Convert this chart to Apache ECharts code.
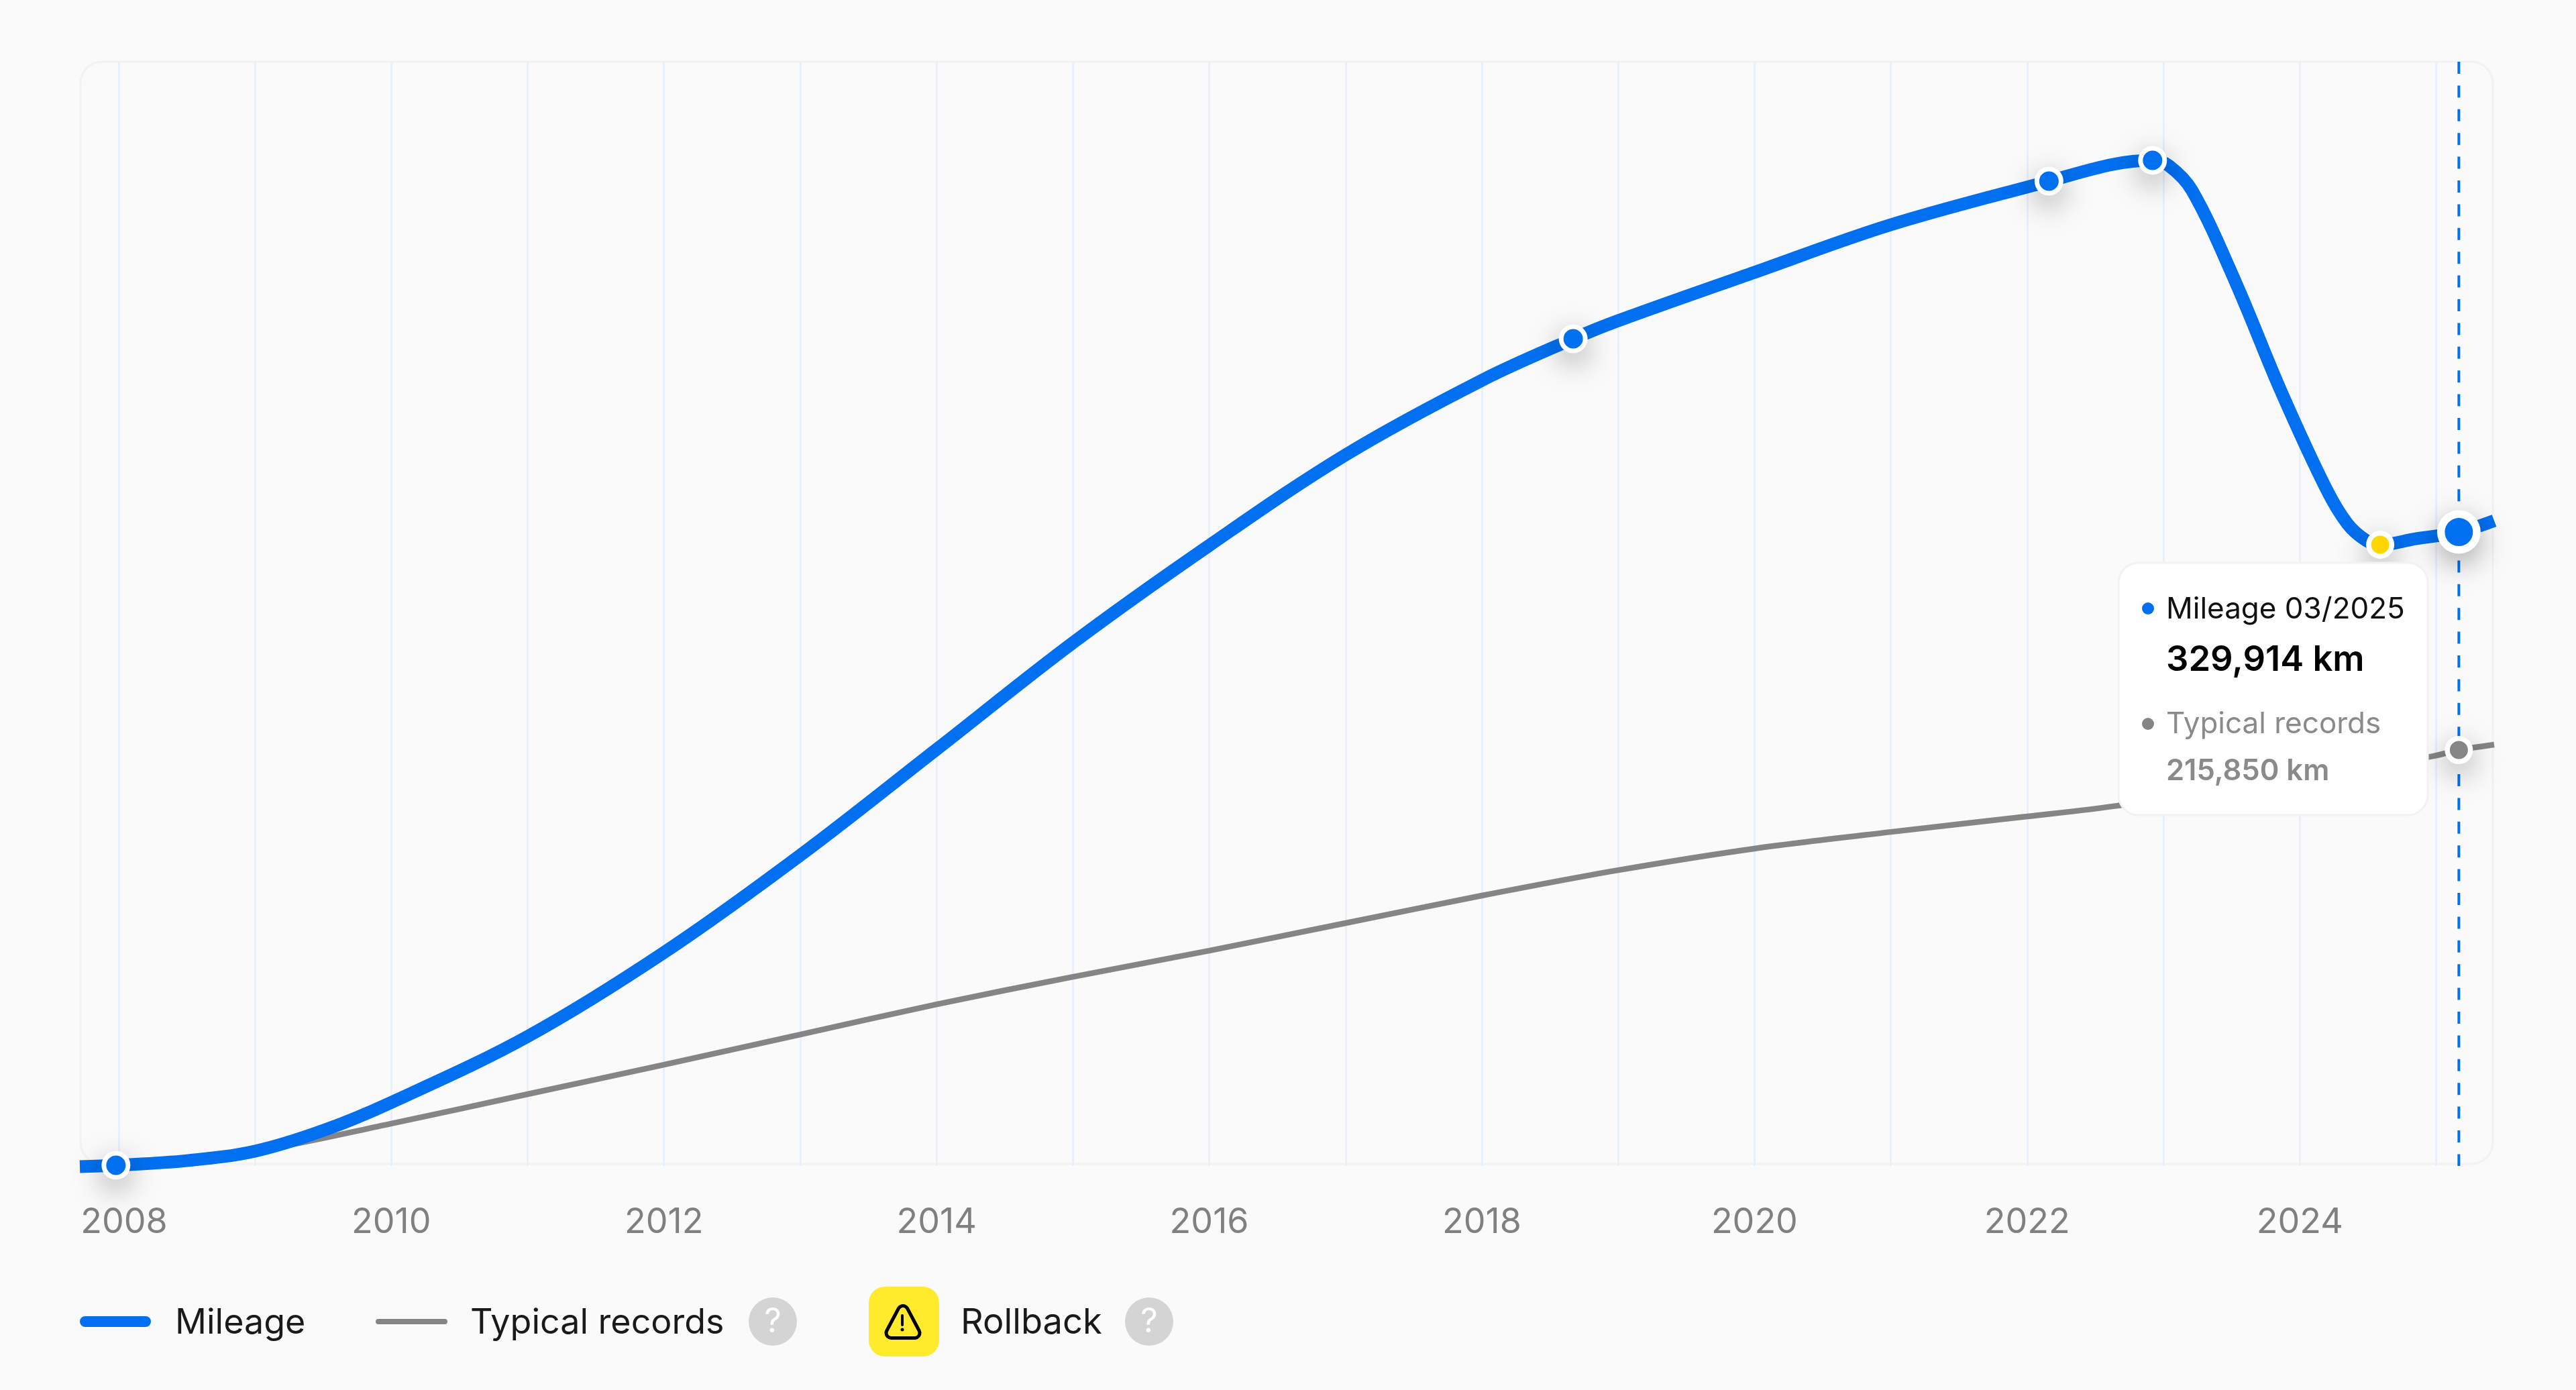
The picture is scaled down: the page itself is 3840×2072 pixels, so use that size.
<!DOCTYPE html>
<html>
	<head>
		<meta charset="utf-8">
		<title>Mileage</title>
		<script src="https://cdn.jsdelivr.net/npm/echarts@6/dist/echarts.min.js"></script>
		<style>
			html, body { margin: 0; padding: 0; background: #fafafa; }
		</style>
	</head>
	<body>
		<div id="main" style="width: 3840px; height: 2072px;"></div>
		<script type="text/javascript">
			// values, x in decimal years
			var mileageYears = [2007.715, 2007.98, 2008.5, 2009, 2009.5, 2010, 2011, 2012, 2013, 2014, 2015, 2016, 2017, 2018, 2018.67, 2019, 2020, 2021, 2022.16, 2022.63, 2022.92, 2023.04, 2023.21, 2023.53, 2023.86, 2024.19, 2024.35, 2024.49, 2024.59, 2024.85, 2025.167, 2025.426]
			var mileageValues = [-2100, -1400, 1000, 6000, 16800, 31500, 66000, 109900, 160800, 216200, 272000, 322900, 370300, 409300, 431000, 440500, 465800, 490700, 513500, 522300, 524400, 521600, 508600, 460500, 404000, 353100, 334200, 325400, 323300, 326400, 329914, 335900]
			var typicalYears = [2007.98, 2009, 2010, 2011, 2012, 2013, 2014, 2015, 2016, 2017, 2018, 2019, 2020, 2021, 2022, 2022.66, 2023, 2024, 2024.96, 2025.167, 2025.426]
			var typicalValues = [-1400, 6000, 20400, 35800, 51200, 67000, 82800, 97200, 110900, 125300, 139700, 153000, 164300, 173000, 181100, 186700, 191300, 202200, 212400, 215850, 218700]
			var recordYears = [2007.98, 2018.67, 2022.16, 2022.92]
			var recordValues = [-1400, 431000, 513500, 524400]
			var rollbackYears = [2024.59]
			var rollbackValues = [323300]
			var cursorYear = 2025.167
			var cursorMileage = 329914
			var cursorTypical = 215850

			var tickYears = [2008, 2009, 2010, 2011, 2012, 2013, 2014, 2015, 2016, 2017, 2018, 2019, 2020, 2021, 2022, 2023, 2024, 2025]
			var labelYears = [2008, 2010, 2012, 2014, 2016, 2018, 2020, 2022, 2024]

			var xMin = 2007.715
			var xMax = 2025.426
			var yMin = -1755
			var yMax = 576000

			var blue = '#0070f0'
			var grey = '#858585'
			var yellow = '#ffd600'
			var font = 'Inter, "Noto Sans", sans-serif'

			function zip(xs, ys) {
				return xs.map(function (x, i) { return [x, ys[i]] })
			}

			// white halo carries the shadow, the coloured dot sits on top so it stays clean
			function dotSeries(data, color, inner, outer) {
				return [
					{
						type: 'scatter',
						data: data,
						symbol: 'circle',
						symbolSize: outer,
						clip: false,
						silent: true,
						z: 5,
						itemStyle: {
							color: '#fff',
							opacity: 1,
							shadowBlur: 44,
							shadowOffsetY: 14,
							shadowColor: 'rgba(0, 0, 0, 0.35)'
						}
					},
					{
						type: 'scatter',
						data: data,
						symbol: 'circle',
						symbolSize: inner,
						clip: false,
						silent: true,
						z: 6,
						itemStyle: { color: color, opacity: 1 }
					}
				]
			}

			function label(text, x, y, size, color, weight) {
				return {
					type: 'text',
					z: 20,
					style: {
						text: text,
						x: x,
						y: y,
						fill: color,
						fontFamily: font,
						fontSize: size,
						fontWeight: weight || 400,
						textVerticalAlign: 'middle'
					}
				}
			}

			function helpBadge(cx) {
				return [
					{ type: 'circle', z: 20, shape: { cx: cx, cy: 1970, r: 36 }, style: { fill: '#d4d4d4' } },
					{ type: 'text', z: 21, style: { text: '?', x: cx, y: 1971, fill: '#fff', fontFamily: font, fontSize: 50, fontWeight: 400, textAlign: 'center', textVerticalAlign: 'middle' } }
				]
			}

			function formatKm(v) {
				return v.toLocaleString('en-US') + ' km'
			}

			// the warning triangle: black outline under a yellow core gives the rounded corners
			var trianglePoints = [[1346, 1954], [1363.5, 1987], [1328.5, 1987]]

			var graphics = [
				// plot frame
				{ type: 'rect', z: -1, shape: { x: 120, y: 92, width: 3596, height: 1643, r: 32 }, style: { fill: 'transparent', stroke: '#f2f2f2', lineWidth: 3 } },

				// tooltip
				{ type: 'rect', z: 20, shape: { x: 3158, y: 839, width: 461, height: 376, r: 30 }, style: { fill: '#fff', stroke: '#f2f2f2', lineWidth: 3 } },
				{ type: 'circle', z: 21, shape: { cx: 3202, cy: 907, r: 9 }, style: { fill: blue } },
				label('Mileage 03/2025', 3229, 909, 44, '#111'),
				label(formatKm(cursorMileage), 3229, 984, 52.5, '#000', 600),
				{ type: 'circle', z: 21, shape: { cx: 3202, cy: 1079, r: 9 }, style: { fill: grey } },
				label('Typical records', 3229, 1080, 44, '#8a8a8a'),
				label(formatKm(cursorTypical), 3229, 1150, 43.5, '#8a8a8a', 600),

				// legend
				{ type: 'rect', z: 20, shape: { x: 119, y: 1962, width: 106, height: 16, r: 8 }, style: { fill: blue } },
				label('Mileage', 261, 1972, 52, '#1a1a1a'),
				{ type: 'rect', z: 20, shape: { x: 560, y: 1966, width: 107, height: 8, r: 4 }, style: { fill: grey } },
				label('Typical records', 701, 1972, 52, '#1a1a1a'),
				{ type: 'rect', z: 20, shape: { x: 1295, y: 1918, width: 105, height: 104, r: 24 }, style: { fill: '#ffeb2b' } },
				{ type: 'polygon', z: 21, shape: { points: trianglePoints }, style: { fill: '#000', stroke: '#000', lineWidth: 20, lineJoin: 'round' } },
				{ type: 'polygon', z: 22, shape: { points: trianglePoints }, style: { fill: '#ffeb2b', stroke: '#ffeb2b', lineWidth: 10, lineJoin: 'round' } },
				{ type: 'line', z: 23, shape: { x1: 1345, y1: 1961, x2: 1345, y2: 1975 }, style: { stroke: '#000', lineWidth: 4, lineCap: 'round' } },
				{ type: 'circle', z: 23, shape: { cx: 1345, cy: 1982, r: 2.5 }, style: { fill: '#000' } },
				label('Rollback', 1432, 1972, 52.5, '#1a1a1a')
			].concat(helpBadge(1152), helpBadge(1713))

			var myCharts = echarts.init(document.getElementById('main'), null, { renderer: 'canvas', devicePixelRatio: 1 })

			var option = {
				backgroundColor: '#fafafa',
				animation: false,
				grid: { left: 119, right: 122, top: 92, bottom: 334, outerBoundsMode: 'none' },
				xAxis: {
					type: 'value',
					min: xMin,
					max: xMax,
					axisLine: { show: false },
					axisTick: { show: false, customValues: tickYears },
					splitLine: { show: true, lineStyle: { color: '#e8f0fb', width: 3 } },
					axisLabel: {
						customValues: labelYears,
						margin: 58,
						color: '#808080',
						fontFamily: font,
						fontSize: 52,
						showMinLabel: true,
						showMaxLabel: true,
						formatter: function (v) {
							// first label is pushed in to sit at the frame edge
							return v === labelYears[0] ? '{first|' + v + '}' : String(v)
						},
						rich: {
							first: { color: '#808080', fontFamily: font, fontSize: 52, padding: [0, 0, 0, 16] }
						}
					}
				},
				yAxis: { type: 'value', show: false, min: yMin, max: yMax, splitLine: { show: false } },
				graphic: graphics,
				series: [
					{
						type: 'line',
						data: [[cursorYear, yMax], [cursorYear, yMin]],
						showSymbol: false,
						silent: true,
						z: 2,
						lineStyle: { color: blue, width: 4, type: [18, 17.4] }
					},
					{
						name: 'Typical records',
						type: 'line',
						data: zip(typicalYears, typicalValues),
						smooth: 0.3,
						showSymbol: false,
						clip: false,
						z: 3,
						lineStyle: { color: grey, width: 8.5 }
					},
					{
						name: 'Mileage',
						type: 'line',
						data: zip(mileageYears, mileageValues),
						smooth: 0.35,
						showSymbol: false,
						clip: false,
						z: 4,
						lineStyle: { color: blue, width: 19 }
					}
				].concat(
					dotSeries(zip(recordYears, recordValues), blue, 29, 43),
					dotSeries(zip(rollbackYears, rollbackValues), yellow, 27, 42),
					dotSeries([[cursorYear, cursorTypical]], grey, 27, 42),
					dotSeries([[cursorYear, cursorMileage]], blue, 42, 65)
				)
			}
			myCharts.setOption(option)
		</script>
	</body>
</html>
